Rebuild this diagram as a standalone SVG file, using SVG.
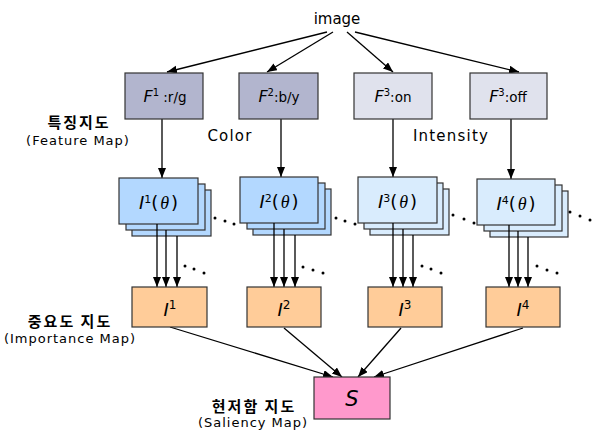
<svg xmlns="http://www.w3.org/2000/svg" width="593" height="432" viewBox="0 0 593 432">
<style>
.box{stroke:#333;stroke-width:1.2}
.fa{fill:#b2b5ce}.fb{fill:#e0e2ed}
.ia{fill:#b3d8ff}.ib{fill:#d9ecfd}
.imp{fill:#ffcc99}.sal{fill:#ff99cc}
.ln{stroke:#000;stroke-width:1.3;fill:none}
.arr{marker-end:url(#ah)}
.t{font-family:"DejaVu Sans",Verdana,sans-serif;fill:#000}
.lbl{font-size:15px;letter-spacing:1.2px}
.sm{font-size:13px;letter-spacing:1px}
.ko{font-family:"Noto Sans CJK KR","DejaVu Sans",sans-serif;font-weight:bold;font-size:15px;letter-spacing:2px}
.it{font-style:italic}
.th{font-family:"Liberation Serif",serif;font-style:italic}
.dot{fill:#000}
</style>
<defs>
<marker id="ah" markerUnits="userSpaceOnUse" markerWidth="11" markerHeight="9" refX="10" refY="4" orient="auto" viewBox="0 0 11 9">
<path d="M0,0 L10,4 L0,8 z" fill="#000"/>
</marker>
</defs>

<text class="t" x="337" y="24" font-size="15" text-anchor="middle">image</text>

<g id="labels">
<text class="t lbl" x="230" y="141" text-anchor="middle">Color</text>
<text class="t lbl" x="451" y="141" text-anchor="middle">Intensity</text>
<text class="ko" x="79" y="128" text-anchor="middle">특징지도</text>
<text class="t sm" x="78" y="145" text-anchor="middle">(Feature Map)</text>
<text class="ko" x="70" y="327" text-anchor="middle">중요도 지도</text>
<text class="t sm" x="70" y="343" text-anchor="middle">(Importance Map)</text>
<text class="ko" x="254" y="412" text-anchor="middle">현저함 지도</text>
<text class="t sm" x="253" y="427" text-anchor="middle">(Saliency Map)</text>
</g>

<g id="connectors">
<line class="ln arr" x1="327" y1="32" x2="167" y2="72"/>
<line class="ln arr" x1="333" y1="32" x2="267" y2="72"/>
<line class="ln arr" x1="347" y1="32" x2="393" y2="72"/>
<line class="ln arr" x1="355" y1="32" x2="519" y2="72"/>
<line class="ln arr" x1="162" y1="119" x2="162" y2="178"/>
<line class="ln arr" x1="281" y1="119" x2="281" y2="177"/>
<line class="ln arr" x1="393" y1="119" x2="393" y2="177"/>
<line class="ln arr" x1="511" y1="119" x2="511" y2="179"/>
<line class="ln arr" x1="170" y1="327" x2="333" y2="377"/>
<line class="ln arr" x1="284" y1="328" x2="342" y2="377"/>
<line class="ln arr" x1="401" y1="328" x2="358" y2="377"/>
<line class="ln arr" x1="523" y1="328" x2="374" y2="377"/>
</g>

<g id="F1"><rect class="box fa" x="125" y="73" width="78" height="46"/>
<text class="t" x="165" y="102" text-anchor="middle"><tspan class="it" font-size="16">F</tspan><tspan font-size="10" dy="-6">1</tspan><tspan font-size="13.5" dy="6"> :r/g</tspan></text></g>
<g id="F2"><rect class="box fa" x="239" y="73" width="79" height="46"/>
<text class="t" x="279" y="102" text-anchor="middle"><tspan class="it" font-size="16">F</tspan><tspan font-size="10" dy="-6">2</tspan><tspan font-size="13.5" dy="6">:b/y</tspan></text></g>
<g id="F3"><rect class="box fb" x="354" y="73" width="78" height="46"/>
<text class="t" x="393" y="102" text-anchor="middle"><tspan class="it" font-size="16">F</tspan><tspan font-size="10" dy="-6">3</tspan><tspan font-size="13.5" dy="6">:on</tspan></text></g>
<g id="F4"><rect class="box fb" x="470" y="73" width="77" height="46"/>
<text class="t" x="508" y="102" text-anchor="middle"><tspan class="it" font-size="16">F</tspan><tspan font-size="10" dy="-6">3</tspan><tspan font-size="13.5" dy="6">:off</tspan></text></g>

<g id="I1theta">
<rect class="box ia" x="132" y="190" width="79" height="46"/>
<rect class="box ia" x="126" y="184" width="79" height="46"/>
<rect class="box ia" x="119" y="178" width="79" height="46"/>
<text class="t" x="158.5" y="209" text-anchor="middle" font-size="18"><tspan class="it">I</tspan><tspan font-size="11" dy="-6">1</tspan><tspan dy="6">(</tspan><tspan class="th" dx="2">θ</tspan><tspan dx="2">)</tspan></text>
</g>
<g id="I2theta">
<rect class="box ia" x="253" y="189" width="78" height="46"/>
<rect class="box ia" x="247" y="183" width="78" height="46"/>
<rect class="box ia" x="240" y="177" width="78" height="46"/>
<text class="t" x="279" y="208" text-anchor="middle" font-size="18"><tspan class="it">I</tspan><tspan font-size="11" dy="-6">2</tspan><tspan dy="6">(</tspan><tspan class="th" dx="2">θ</tspan><tspan dx="2">)</tspan></text>
</g>
<g id="I3theta">
<rect class="box ib" x="370" y="189" width="79" height="46"/>
<rect class="box ib" x="364" y="183" width="79" height="46"/>
<rect class="box ib" x="358" y="177" width="79" height="46"/>
<text class="t" x="397.5" y="208" text-anchor="middle" font-size="18"><tspan class="it">I</tspan><tspan font-size="11" dy="-6">3</tspan><tspan dy="6">(</tspan><tspan class="th" dx="2">θ</tspan><tspan dx="2">)</tspan></text>
</g>
<g id="I4theta">
<rect class="box ib" x="490" y="191" width="78" height="46"/>
<rect class="box ib" x="484" y="185" width="78" height="46"/>
<rect class="box ib" x="477" y="179" width="78" height="46"/>
<text class="t" x="516" y="210" text-anchor="middle" font-size="18"><tspan class="it">I</tspan><tspan font-size="11" dy="-6">4</tspan><tspan dy="6">(</tspan><tspan class="th" dx="2">θ</tspan><tspan dx="2">)</tspan></text>
</g>

<g id="orientation-arrows">
<line class="ln arr" x1="157" y1="224" x2="157" y2="287"/>
<line class="ln arr" x1="166" y1="230" x2="166" y2="287"/>
<line class="ln arr" x1="177" y1="236" x2="177" y2="287"/>
<line class="ln arr" x1="274" y1="223" x2="274" y2="287"/>
<line class="ln arr" x1="284" y1="229" x2="284" y2="287"/>
<line class="ln arr" x1="295" y1="235" x2="295" y2="287"/>
<line class="ln arr" x1="393" y1="223" x2="393" y2="287"/>
<line class="ln arr" x1="403" y1="229" x2="403" y2="287"/>
<line class="ln arr" x1="413" y1="235" x2="413" y2="287"/>
<line class="ln arr" x1="509" y1="225" x2="509" y2="287"/>
<line class="ln arr" x1="518" y1="231" x2="518" y2="287"/>
<line class="ln arr" x1="528" y1="237" x2="528" y2="287"/>
</g>

<g id="ellipses">
<circle class="dot" cx="215" cy="218" r="1.5"/><circle class="dot" cx="225" cy="221" r="1.5"/><circle class="dot" cx="234" cy="224" r="1.5"/>
<circle class="dot" cx="336" cy="218" r="1.5"/><circle class="dot" cx="345" cy="221" r="1.5"/><circle class="dot" cx="355" cy="224" r="1.5"/>
<circle class="dot" cx="453" cy="215" r="1.5"/><circle class="dot" cx="464" cy="219" r="1.5"/><circle class="dot" cx="474" cy="223" r="1.5"/>
<circle class="dot" cx="570" cy="212" r="1.5"/><circle class="dot" cx="580" cy="216" r="1.5"/><circle class="dot" cx="590" cy="220" r="1.5"/>
<circle class="dot" cx="185" cy="266" r="1.5"/><circle class="dot" cx="194" cy="269" r="1.5"/><circle class="dot" cx="204" cy="273" r="1.5"/>
<circle class="dot" cx="303" cy="267" r="1.5"/><circle class="dot" cx="313" cy="270" r="1.5"/><circle class="dot" cx="323" cy="273" r="1.5"/>
<circle class="dot" cx="422" cy="266" r="1.5"/><circle class="dot" cx="431" cy="269" r="1.5"/><circle class="dot" cx="441" cy="273" r="1.5"/>
<circle class="dot" cx="537" cy="266" r="1.5"/><circle class="dot" cx="547" cy="270" r="1.5"/><circle class="dot" cx="557" cy="273" r="1.5"/>
</g>

<g id="Imp1"><rect class="box imp" x="132" y="287" width="75" height="40"/>
<text class="t" x="170" y="316" text-anchor="middle" font-size="18"><tspan class="it">I</tspan><tspan font-size="12" dy="-7">1</tspan></text></g>
<g id="Imp2"><rect class="box imp" x="247" y="287" width="74" height="40"/>
<text class="t" x="284" y="316" text-anchor="middle" font-size="18"><tspan class="it">I</tspan><tspan font-size="12" dy="-7">2</tspan></text></g>
<g id="Imp3"><rect class="box imp" x="368" y="287" width="74" height="40"/>
<text class="t" x="405" y="316" text-anchor="middle" font-size="18"><tspan class="it">I</tspan><tspan font-size="12" dy="-7">3</tspan></text></g>
<g id="Imp4"><rect class="box imp" x="486" y="287" width="74" height="40"/>
<text class="t" x="523" y="316" text-anchor="middle" font-size="18"><tspan class="it">I</tspan><tspan font-size="12" dy="-7">4</tspan></text></g>

<g id="S"><rect class="box sal" x="314" y="377" width="76" height="42"/>
<text class="t it" x="352" y="406" text-anchor="middle" font-size="21">S</text></g>
</svg>
